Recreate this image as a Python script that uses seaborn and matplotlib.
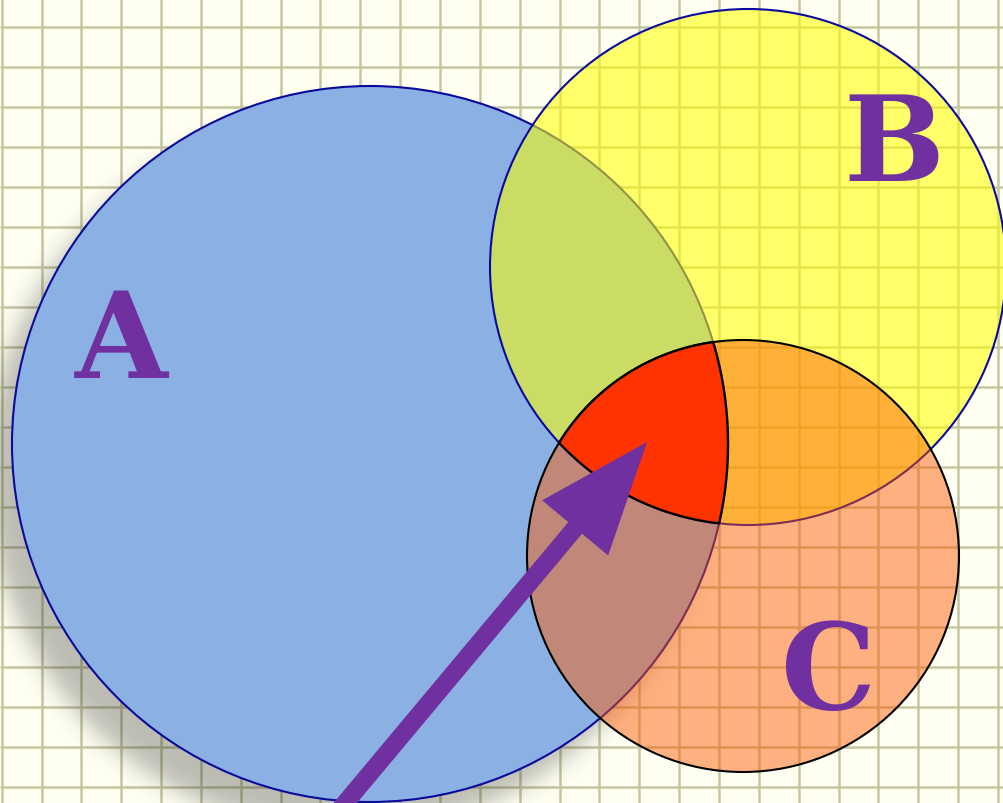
import numpy as np
import matplotlib
matplotlib.use("Agg")
import matplotlib.pyplot as plt
from matplotlib.patches import Circle, Polygon, FancyArrow
import seaborn as sns

# ---- data -------------------------------------------------------------
set_names = ["A", "B", "C"]
center_x = [370, 748, 743]
center_y = [445, 268, 557]
radius = [358, 258, 216]
label_x = [121, 894, 829]
label_y = [378, 181, 709]
arrow_tail = [336, 815]
arrow_tip = [647, 443]

# ---- style ------------------------------------------------------------
sns.set_theme(style="white")
plt.rcParams['font.family'] = ['DejaVu Serif', 'DejaVu Sans']

W, H = 1004, 804
fig = plt.figure(figsize=(W / 100, H / 100), dpi=100)
ax = fig.add_axes([0, 0, 1, 1])
ax.set_xlim(0, W)
ax.set_ylim(H, 0)
ax.set_aspect("equal")
ax.axis("off")

bg = "#fffff2"
ax.add_patch(plt.Rectangle((0, 0), W, H, facecolor=bg, edgecolor="none", zorder=0))

# graph-paper grid
gx = np.arange(1.7, W + 40, 39.85)
gy = np.arange(28.3 - 40, H + 40, 40.0)
ax.vlines(gx, 0, H, color="#c4c7a0", lw=1.8, zorder=0.5)
ax.hlines(gy, 0, W, color="#c4c7a0", lw=1.8, zorder=0.5)

# soft drop shadow of circle A
xx, yy = np.meshgrid(np.arange(W) + 0.5, np.arange(H) + 0.5)
sx, sy = center_x[0] - 24, center_y[0] + 30
d = np.hypot(xx - sx, yy - sy)
alpha = 0.30 * 0.5 * (1 - np.tanh((d - radius[0]) / 14.0))
shadow = np.zeros((H, W, 4))
shadow[..., 0:3] = 0.12
shadow[..., 3] = alpha
ax.imshow(shadow, extent=(0, W, H, 0), zorder=1, interpolation="bilinear")

fills = [(139/255, 177/255, 228/255, 1.0), (1.0, 1.0, 0.0, 0.56), (1.0, 88/255, 0.0, 0.47)]
edges = ["#0a0a9c", "#0a0a9c", "#000000"]
for i in range(3):
    ax.add_patch(Circle((center_x[i], center_y[i]), radius[i], facecolor=fills[i],
                        edgecolor=edges[i], lw=1.5, zorder=2 + i))

# triple intersection A ∩ B ∩ C
pts = []
t = np.linspace(0, 2 * np.pi, 4000, endpoint=False)
for i in range(3):
    px = center_x[i] + radius[i] * np.cos(t)
    py = center_y[i] + radius[i] * np.sin(t)
    keep = np.ones_like(px, dtype=bool)
    for j in range(3):
        if j != i:
            keep &= np.hypot(px - center_x[j], py - center_y[j]) <= radius[j] + 1e-6
    pts.append(np.column_stack([px[keep], py[keep]]))
pts = np.vstack(pts)
c = pts.mean(axis=0)
order = np.argsort(np.arctan2(pts[:, 1] - c[1], pts[:, 0] - c[0]))
ax.add_patch(Polygon(pts[order], closed=True, facecolor="#ff3300",
                     edgecolor="black", lw=1.7, zorder=6))

# arrow
dx = arrow_tip[0] - arrow_tail[0]
dy = arrow_tip[1] - arrow_tail[1]
ax.add_patch(FancyArrow(arrow_tail[0], arrow_tail[1], dx, dy, width=18,
                        head_width=86, head_length=112, length_includes_head=True,
                        facecolor="#7030a0", edgecolor="none", zorder=7))

# labels
for name, lx, ly in zip(set_names, label_x, label_y):
    ax.text(lx, ly, name, ha="center", va="baseline", fontsize=86,
            fontweight="bold", color="#7030a0", zorder=8)

fig.savefig("out.png", dpi=100)
